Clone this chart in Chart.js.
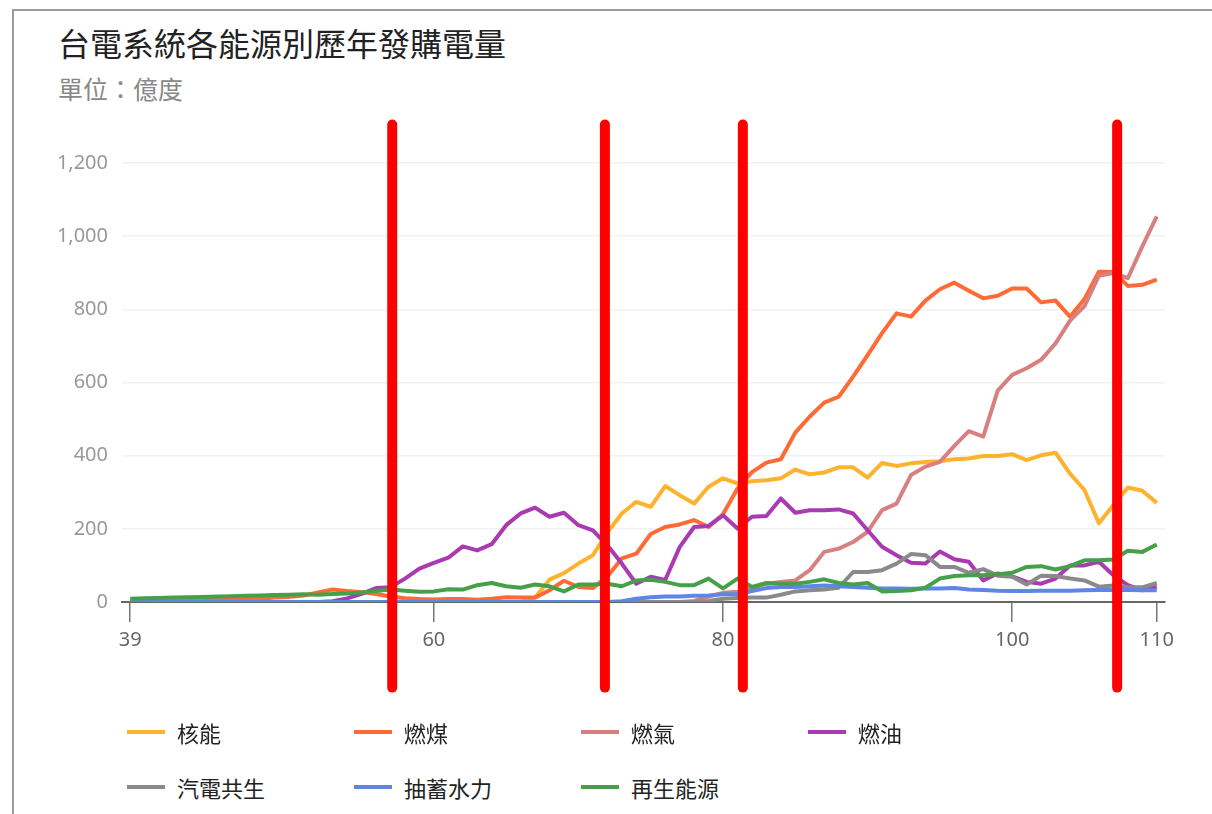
<!DOCTYPE html>
<html lang="zh-Hant">
<head>
<meta charset="utf-8">
<title>台電系統各能源別歷年發購電量</title>
<script src="https://cdn.jsdelivr.net/npm/chart.js@4.4.1/dist/chart.umd.min.js"></script>
<style>
  html, body { margin: 0; padding: 0; background: #fff; }
  body { width: 1212px; height: 814px; overflow: hidden; position: relative;
         font-family: "Noto Sans CJK TC", "Noto Sans", sans-serif; }
  .card { position: absolute; left: 12px; top: 9px; width: 1300px; height: 900px;
          border-left: 2px solid #9a9a9a; border-top: 2px solid #9a9a9a; }
  .title { position: absolute; left: 58px; top: 22px; margin: 0; font-size: 32px;
           font-weight: 400; color: #222; line-height: 40px; white-space: nowrap; }
  .subtitle { position: absolute; left: 58px; top: 72px; margin: 0; font-size: 25px;
              color: #888; line-height: 32px; white-space: nowrap; }
  #chart { position: absolute; left: 0; top: 0; }
  .legend-item { position: absolute; height: 30px; display: flex; align-items: center;
                 font-size: 22px; color: #222; white-space: nowrap; }
  .legend-item .swatch { width: 38px; height: 4px; margin-right: 12px; }
</style>
</head>
<body>
<div class="card"></div>
<div class="title">台電系統各能源別歷年發購電量</div>
<div class="subtitle">單位：億度</div>
<canvas id="chart" width="1212" height="720"></canvas>
<div id="legend"></div>
<script>
// 民國年
const years = [
  39, 40, 41, 42, 43, 44, 45, 46, 47, 48, 49,
  50, 51, 52, 53, 54, 55, 56, 57, 58, 59,
  60, 61, 62, 63, 64, 65, 66, 67, 68, 69,
  70, 71, 72, 73, 74, 75, 76, 77, 78, 79,
  80, 81, 82, 83, 84, 85, 86, 87, 88, 89,
  90, 91, 92, 93, 94, 95, 96, 97, 98, 99,
  100, 101, 102, 103, 104, 105, 106, 107, 108, 109, 110
];

const nuclear = [
  0, 0, 0, 0, 0, 0, 0, 0, 0, 0, 0,
  0, 0, 0, 0, 0, 0, 0, 0, 0, 0,
  0, 0, 0, 0, 0, 0, 0, 12, 61, 79,
  105, 128, 190, 242, 274, 260, 317, 292, 269, 315,
  338, 324, 330, 333, 338, 362, 349, 354, 368, 368,
  340, 380, 372, 379, 383, 385, 390, 392, 399, 399,
  404, 388, 401, 408, 351, 306, 215, 265, 313, 304, 271
];

const coal = [
  3, 4, 4, 5, 5, 6, 6, 7, 8, 9, 12,
  14, 18, 26, 34, 30, 27, 22, 15, 10, 8,
  7, 8, 8, 6, 9, 13, 12, 12, 32, 58,
  41, 38, 70, 119, 132, 186, 205, 212, 224, 205,
  240, 310, 355, 381, 390, 463, 507, 545, 561, 616,
  675, 735, 789, 780, 824, 855, 873, 851, 830, 837,
  857, 857, 819, 824, 780, 828, 903, 902, 864, 867, 881
];

const gas = [
  0, 0, 0, 0, 0, 0, 0, 0, 0, 0, 0,
  0, 0, 0, 0, 0, 0, 0, 0, 0, 0,
  0, 0, 0, 0, 0, 0, 0, 0, 0, 0,
  0, 0, 0, 0, 0, 0, 0, 0, 3, 15,
  25, 28, 37, 50, 55, 59, 87, 137, 146, 164,
  192, 251, 269, 347, 370, 383, 427, 467, 452, 578,
  621, 639, 662, 707, 769, 809, 892, 899, 885, 972, 1054
];

const oil = [
  0, 0, 0, 0, 0, 0, 0, 0, 0, 0, 0,
  0, 0, 0, 2, 10, 22, 38, 40, 64, 91,
  107, 121, 152, 141, 158, 210, 242, 258, 233, 244,
  210, 196, 155, 105, 50, 69, 60, 150, 205, 208,
  237, 201, 233, 235, 283, 244, 251, 251, 253, 242,
  196, 151, 128, 107, 105, 138, 117, 110, 59, 78,
  70, 55, 50, 64, 100, 100, 110, 73, 46, 32, 41
];

const cogen = [
  0, 0, 0, 0, 0, 0, 0, 0, 0, 0, 0,
  0, 0, 0, 0, 0, 0, 0, 0, 0, 0,
  0, 0, 0, 0, 0, 0, 0, 0, 0, 0,
  0, 0, 0, 0, 0, 0, 0, 0, 0, 3,
  9, 11, 12, 12, 20, 29, 32, 34, 39, 82,
  82, 87, 105, 131, 128, 96, 96, 80, 90, 72,
  69, 48, 72, 71, 64, 59, 42, 45, 41, 40, 52
];

const pumpedHydro = [
  0, 0, 0, 0, 0, 0, 0, 0, 0, 0, 0,
  0, 0, 0, 0, 0, 0, 0, 0, 0, 0,
  0, 0, 0, 0, 0, 0, 0, 0, 0, 0,
  0, 0, 0, 2, 9, 13, 15, 15, 17, 18,
  21, 22, 30, 38, 41, 41, 43, 45, 43, 41,
  39, 37, 37, 36, 37, 37, 38, 34, 33, 31,
  30, 30, 31, 31, 31, 32, 33, 33, 33, 32, 32
];

const renewable = [
  9, 10, 11, 12, 13, 14, 15, 16, 17, 18, 19,
  20, 21, 20, 22, 23, 26, 30, 34, 31, 28,
  29, 35, 34, 46, 52, 43, 39, 48, 43, 29,
  48, 48, 50, 43, 59, 61, 55, 46, 46, 64,
  37, 64, 41, 52, 50, 50, 55, 62, 52, 48,
  52, 29, 30, 32, 39, 64, 71, 73, 73, 76,
  80, 96, 98, 89, 98, 114, 114, 116, 140, 137, 157
];

const seriesNames = ['核能', '燃煤', '燃氣', '燃油', '汽電共生', '抽蓄水力', '再生能源'];
const seriesValues = [nuclear, coal, gas, oil, cogen, pumpedHydro, renewable];
const seriesColors = ['#ffb22e', '#ff6a35', '#d88080', '#a93ab2', '#8a8a8a', '#5f86e6', '#46a049'];

const xTickValues = [39, 60, 80, 100, 110];
// 紅色標記線（民國年）
const markerYears = [57.12, 71.83, 81.37, 107.26];

const datasets = seriesNames.map((name, i) => ({
  label: name,
  data: years.map((yr, j) => ({ x: yr, y: seriesValues[i][j] })),
  borderColor: seriesColors[i],
  backgroundColor: seriesColors[i],
  borderWidth: 4,
  pointRadius: 0,
  tension: 0,
  borderJoinStyle: 'round',
  order: seriesNames.length - 1 - i
}));

const markerPlugin = {
  id: 'markers',
  afterDraw(chart) {
    const { ctx, scales } = chart;
    ctx.save();
    ctx.strokeStyle = '#ff0000';
    ctx.lineWidth = 10;
    ctx.lineCap = 'round';
    markerYears.forEach(yr => {
      const px = scales.x.getPixelForValue(yr);
      ctx.beginPath();
      ctx.moveTo(px, scales.y.getPixelForValue(1305));
      ctx.lineTo(px, scales.y.getPixelForValue(-234));
      ctx.stroke();
    });
    ctx.restore();
  }
};

const chart = new Chart(document.getElementById('chart'), {
  type: 'line',
  data: { datasets },
  plugins: [markerPlugin],
  options: {
    responsive: false,
    animation: false,
    locale: 'en-US',
    layout: { padding: { top: 163, right: 47, bottom: 40, left: 0 } },
    plugins: {
      legend: { display: false },
      tooltip: { enabled: false }
    },
    scales: {
      x: {
        type: 'linear',
        min: 38.43,
        max: 110.57,
        afterBuildTicks: scale => { scale.ticks = xTickValues.map(v => ({ value: v })); },
        afterFit: scale => { scale.height = 78; },
        ticks: {
          autoSkip: false,
          maxRotation: 0,
          color: '#666',
          padding: 6,
          font: { family: '"Noto Sans", sans-serif', size: 20 },
          callback: v => String(v)
        },
        grid: { drawOnChartArea: false, drawTicks: true, tickLength: 20, color: '#777', lineWidth: 1.5 },
        border: { display: true, color: '#666', width: 2 }
      },
      y: {
        min: 0,
        max: 1200,
        afterFit: scale => { scale.width = 122; },
        ticks: {
          stepSize: 200,
          color: '#999',
          padding: 14,
          font: { family: '"Noto Sans", sans-serif', size: 20 }
        },
        grid: { color: '#f2f2f2', lineWidth: 1.5, drawTicks: false },
        border: { display: false }
      }
    }
  }
});

// HTML 圖例：每列四欄
const legendBox = document.getElementById('legend');
seriesNames.forEach((name, i) => {
  const item = document.createElement('div');
  item.className = 'legend-item';
  item.style.left = (127 + (i % 4) * 227) + 'px';
  item.style.top = (Math.floor(i / 4) === 0 ? 717 : 772) + 'px';
  const sw = document.createElement('span');
  sw.className = 'swatch';
  sw.style.background = seriesColors[i];
  const tx = document.createElement('span');
  tx.textContent = name;
  item.appendChild(sw);
  item.appendChild(tx);
  legendBox.appendChild(item);
});
</script>
</body>
</html>
